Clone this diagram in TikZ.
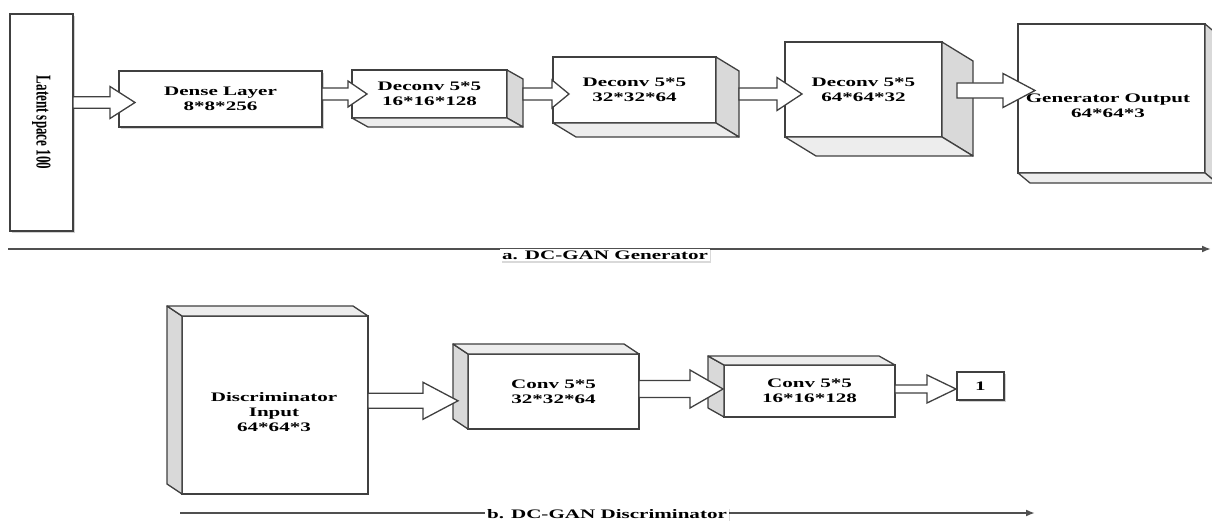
\documentclass[tikz,border=0pt]{standalone}
\usepackage{fontspec}
\setmainfont{Liberation Serif}[FakeStretch=1.62]
\newfontfamily\plainserif{Liberation Serif}
\usetikzlibrary{calc,shadows,arrows.meta}
\definecolor{edge}{HTML}{404040}
\definecolor{sidegray}{HTML}{D9D9D9}
\definecolor{lowgray}{HTML}{EDEDED}
\definecolor{axisgray}{HTML}{505050}
\tikzset{
  face/.style={draw=edge, line width=1.3pt, fill=white, inner sep=0pt, outer sep=0pt,
    align=center, font=\fontsize{13}{15}\selectfont\bfseries},
  flatshadow/.style={drop shadow={shadow xshift=2pt, shadow yshift=-2pt, opacity=0.18, fill=black}},
  txt/.style={inner sep=0pt, align=center, font=\fontsize{13}{15}\selectfont\bfseries},
  sideface/.style={draw=edge, line width=1.3pt, fill=sidegray, line join=round},
  lowface/.style={draw=edge, line width=1.3pt, fill=lowgray, line join=round},
  barrow/.style={draw=edge, line width=1.3pt, fill=white, line join=miter},
  axis/.style={draw=axisgray, line width=1.8pt, -{Latex[length=9pt,width=7pt]}},
  caption/.style={fill=white, inner sep=2pt, font=\fontsize{13}{15}\selectfont\bfseries,
    drop shadow={shadow xshift=1.5pt, shadow yshift=-1.5pt, opacity=0.15, fill=black}}
}
% extrusion toward lower right
\newcommand\extrudeDR[3]{%
  \draw[sideface] (#1.north east) -- ++(#2,#3) -- ($(#1.south east)+(#2,#3)$) -- (#1.south east) -- cycle;
  \draw[lowface] (#1.south west) -- ++(#2,#3) -- ($(#1.south east)+(#2,#3)$) -- (#1.south east) -- cycle;}
% extrusion toward upper left
\newcommand\extrudeUL[3]{%
  \draw[sideface] (#1.north west) -- ++(#2,#3) -- ($(#1.south west)+(#2,#3)$) -- (#1.south west) -- cycle;
  \draw[lowface] (#1.north west) -- ++(#2,#3) -- ($(#1.north east)+(#2,#3)$) -- (#1.north east) -- cycle;}
% block arrow: start, tip, shaft half width, head half width, head length
\newcommand\barr[5]{%
  \draw[barrow] ($(#1)+(0,#3)$) -- ($(#2)+(-#5,#3)$) -- ($(#2)+(-#5,#4)$) -- (#2)
    -- ($(#2)+(-#5,-#4)$) -- ($(#2)+(-#5,-#3)$) -- ($(#1)+(0,-#3)$) -- cycle;}
\begin{document}
\begin{tikzpicture}[x=1pt,y=-1pt]
\useasboundingbox (0,0) rectangle (1212,521);
\clip (0,0) rectangle (1212,521);
\fill[white] (0,0) rectangle (1212,521);

% ---------- generator ----------
\node[face, flatshadow, minimum width=63pt, minimum height=217pt] (latent) at (41.5,122.5)
  {\rotatebox{-90}{\scalebox{1}[1.62]{\plainserif\bfseries\fontsize{13}{15}\selectfont Latent space 100}}};
\node[face, flatshadow, minimum width=203pt, minimum height=56pt] (dense) at (220.5,99) {Dense Layer\\8*8*256};

\node[face, minimum width=155pt, minimum height=48pt] (d1) at (429.5,94) {Deconv 5*5\\16*16*128};
\extrudeDR{d1}{16}{9}
\node[face, minimum width=163pt, minimum height=66pt] (d2) at (634.5,90) {Deconv 5*5\\32*32*64};
\extrudeDR{d2}{23}{14}
\node[face, minimum width=157pt, minimum height=95pt] (d3) at (863.5,89.5) {Deconv 5*5\\64*64*32};
\extrudeDR{d3}{31}{19}
\node[face, minimum width=187pt, minimum height=149pt] (gout) at (1111.5,98.5) {};
\extrudeDR{gout}{12}{10}
\node[txt] (goutT) at (1108,105.5) {Generator Output\\64*64*3};

\coordinate (a1s) at (latent.east |- 0,102.5);
\coordinate (a1t) at ($(dense.west |- a1s)+(16,0)$);
\barr{a1s}{a1t}{5.7}{16}{25}
\coordinate (a2s) at (dense.east |- 0,94);
\coordinate (a2t) at ($(d1.west |- a2s)+(15,0)$);
\barr{a2s}{a2t}{6}{13}{19}
\coordinate (a3s) at ($(d1.east |- 0,94)+(16,0)$);
\coordinate (a3t) at ($(d2.west |- a3s)+(16,0)$);
\barr{a3s}{a3t}{6}{14}{17}
\coordinate (a4s) at ($(d2.east |- 0,94)+(23,0)$);
\coordinate (a4t) at ($(d3.west |- a4s)+(17,0)$);
\barr{a4s}{a4t}{6}{16.5}{25}
\coordinate (a5s) at ($(d3.east |- 0,90.5)+(15,0)$);
\coordinate (a5t) at ($(gout.west |- a5s)+(17,0)$);
\barr{a5s}{a5t}{7.5}{17}{32}

\coordinate (aL) at (8,249);
\coordinate (aR) at (1211,249);
\draw[axis] (aL) -- (aR);
\node[caption] (capA) at (605,255) {a. DC-GAN Generator};

% ---------- discriminator ----------
\node[face, minimum width=186pt, minimum height=178pt] (disc) at (275,405) {};
\extrudeUL{disc}{-15}{-10}
\node[txt] (discT) at (274,412) {Discriminator\\Input\\64*64*3};
\node[face, minimum width=171pt, minimum height=75pt] (conv1) at (553.5,391.5) {Conv 5*5\\32*32*64};
\extrudeUL{conv1}{-15}{-10}
\node[face, minimum width=171pt, minimum height=52pt] (conv2) at (809.5,391) {Conv 5*5\\16*16*128};
\extrudeUL{conv2}{-16}{-9}
\node[face, flatshadow, minimum width=47pt, minimum height=28pt] (one) at (980.5,386) {1};

\coordinate (b1s) at (disc.east |- 0,400.8);
\coordinate (b1t) at ($(conv1.west |- b1s)+(-10,0)$);
\barr{b1s}{b1t}{7.5}{18.5}{35}
\coordinate (b2s) at (conv1.east |- 0,389);
\coordinate (b2t) at ($(conv2.west |- b2s)+(-1,0)$);
\barr{b2s}{b2t}{8.5}{19}{33}
\coordinate (b3s) at (conv2.east |- 0,389);
\coordinate (b3t) at ($(one.west |- b3s)+(-1,0)$);
\barr{b3s}{b3t}{4}{14}{29}

\coordinate (bL) at (180,513);
\coordinate (bR) at (1035,513);
\draw[axis] (bL) -- (bR);
\node[caption] (capB) at (607,514) {b. DC-GAN Discriminator};
\end{tikzpicture}
\end{document}
